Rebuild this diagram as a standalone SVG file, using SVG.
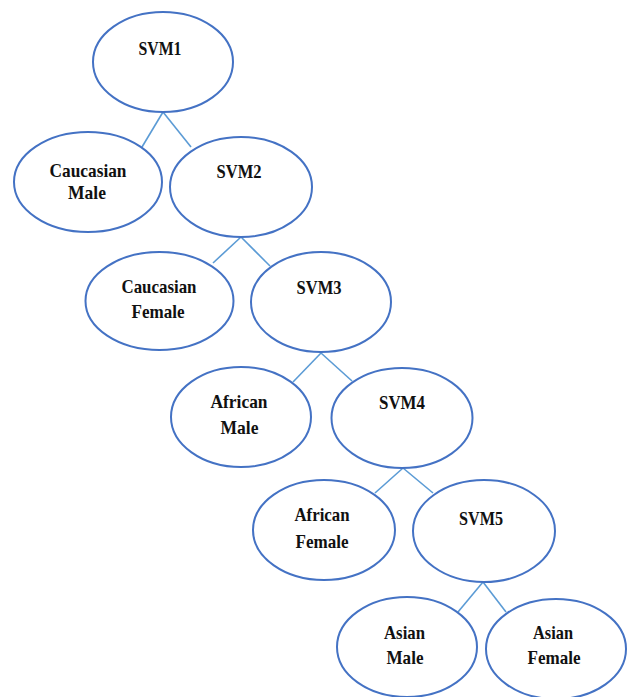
<svg xmlns="http://www.w3.org/2000/svg" width="630" height="697" viewBox="0 0 630 697">
<style>
.n{fill:#fff;stroke:#4472C4;stroke-width:2}
.c line{stroke:#5B9BD5;stroke-width:1.6}
text{font-family:"Liberation Serif","Times New Roman",serif;font-weight:bold;font-size:19px;fill:#111;text-anchor:middle}
</style>
<rect width="630" height="697" fill="#fff"/>
<g class="c" id="connectors">
<line x1="163" y1="112" x2="142" y2="147"/>
<line x1="163" y1="112" x2="191" y2="147"/>
<line x1="241" y1="237" x2="213" y2="263"/>
<line x1="241" y1="237" x2="270" y2="266"/>
<line x1="321" y1="353" x2="293" y2="382"/>
<line x1="321" y1="353" x2="352" y2="381"/>
<line x1="403" y1="468" x2="375" y2="493"/>
<line x1="403" y1="468" x2="433" y2="493"/>
<line x1="483" y1="582" x2="458" y2="612"/>
<line x1="483" y1="582" x2="506" y2="612"/>
</g>
<g id="svm1"><ellipse class="n" cx="163" cy="62" rx="70" ry="50"/><text x="160" y="55" textLength="43" lengthAdjust="spacingAndGlyphs">SVM1</text></g>
<g id="caucasian-male"><ellipse class="n" cx="88" cy="182" rx="74" ry="50"/><text x="88" y="177" textLength="77" lengthAdjust="spacingAndGlyphs">Caucasian</text><text x="87" y="199" textLength="38" lengthAdjust="spacingAndGlyphs">Male</text></g>
<g id="svm2"><ellipse class="n" cx="241" cy="187" rx="71" ry="50"/><text x="239" y="178" textLength="45" lengthAdjust="spacingAndGlyphs">SVM2</text></g>
<g id="caucasian-female"><ellipse class="n" cx="159.5" cy="301" rx="74" ry="49"/><text x="159" y="293" textLength="75" lengthAdjust="spacingAndGlyphs">Caucasian</text><text x="158" y="318" textLength="53" lengthAdjust="spacingAndGlyphs">Female</text></g>
<g id="svm3"><ellipse class="n" cx="321" cy="302" rx="70" ry="50"/><text x="319" y="294" textLength="45" lengthAdjust="spacingAndGlyphs">SVM3</text></g>
<g id="african-male"><ellipse class="n" cx="241" cy="417" rx="70" ry="50"/><text x="239" y="408" textLength="57" lengthAdjust="spacingAndGlyphs">African</text><text x="239.5" y="434" textLength="38" lengthAdjust="spacingAndGlyphs">Male</text></g>
<g id="svm4"><ellipse class="n" cx="402" cy="418" rx="70.5" ry="50"/><text x="402" y="409" textLength="46" lengthAdjust="spacingAndGlyphs">SVM4</text></g>
<g id="african-female"><ellipse class="n" cx="324" cy="530" rx="71" ry="50"/><text x="322" y="521" textLength="55" lengthAdjust="spacingAndGlyphs">African</text><text x="322" y="548" textLength="53" lengthAdjust="spacingAndGlyphs">Female</text></g>
<g id="svm5"><ellipse class="n" cx="484" cy="531" rx="71" ry="51"/><text x="481" y="525" textLength="44" lengthAdjust="spacingAndGlyphs">SVM5</text></g>
<g id="asian-male"><ellipse class="n" cx="407" cy="647" rx="70" ry="50"/><text x="404.5" y="639" textLength="41" lengthAdjust="spacingAndGlyphs">Asian</text><text x="405" y="664" textLength="37" lengthAdjust="spacingAndGlyphs">Male</text></g>
<g id="asian-female"><ellipse class="n" cx="556" cy="649" rx="70" ry="50"/><text x="553" y="639" textLength="40" lengthAdjust="spacingAndGlyphs">Asian</text><text x="554" y="664" textLength="53" lengthAdjust="spacingAndGlyphs">Female</text></g>
</svg>
